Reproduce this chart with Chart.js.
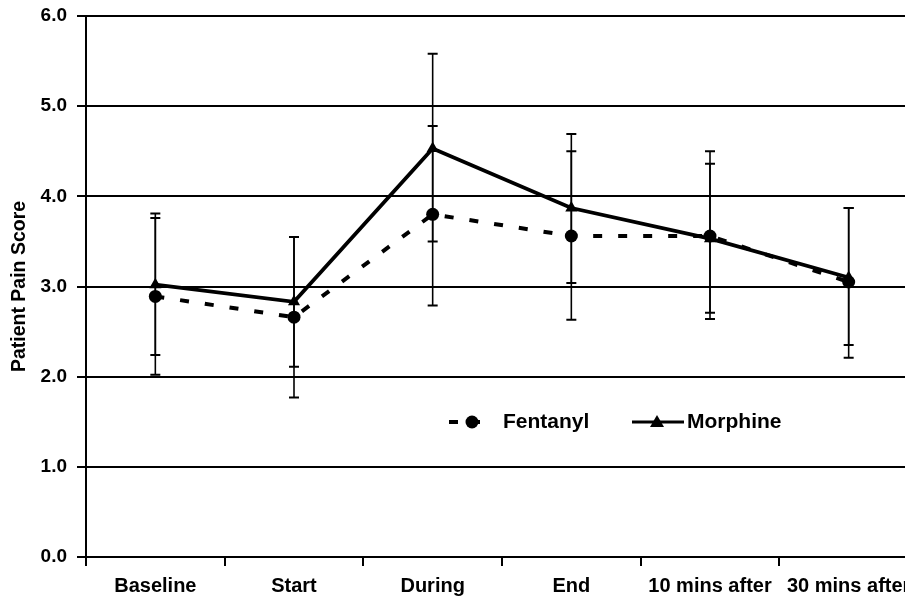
<!DOCTYPE html>
<html><head><meta charset="utf-8">
<script src="https://cdn.jsdelivr.net/npm/chart.js@4/dist/chart.umd.min.js"></script>
<style>
html,body{margin:0;padding:0;overflow:hidden;background:#fff;}
#wrap{width:925px;height:598px;position:relative;}
</style></head><body>
<div id="wrap"><canvas id="c" width="925" height="598"></canvas></div>
<script>
const categories = ['Baseline','Start','During','End','10 mins after','30 mins after'];
const fentanylMean = [2.89, 2.66, 3.80, 3.56, 3.56, 3.05];
const fentanylHigh = [3.76, 3.55, 4.78, 4.50, 4.50, 3.87];
const fentanylLow  = [2.02, 1.77, 2.79, 2.63, 2.64, 2.21];
const morphineMean = [3.02, 2.83, 4.53, 3.87, 3.53, 3.10];
const morphineHigh = [3.81, 3.55, 5.58, 4.69, 4.36, 3.87];
const morphineLow  = [2.24, 2.11, 3.50, 3.04, 2.71, 2.35];
const yMin = 0, yMax = 6, yStep = 1;

const FONT = "'Liberation Sans', Arial, sans-serif";

const errorBars = {
  id: 'errorBars',
  beforeDatasetsDraw(chart) {
    const {ctx, scales: {y}} = chart;
    ctx.save();
    chart.data.datasets.forEach((ds, i) => {
      const meta = chart.getDatasetMeta(i);
      meta.data.forEach((pt, j) => {
        const xp = pt.x;
        const yh = y.getPixelForValue(ds.errHigh[j]);
        const yl = y.getPixelForValue(ds.errLow[j]);
        ctx.strokeStyle = '#000';
        ctx.setLineDash([]);
        ctx.lineWidth = 1.6;
        ctx.beginPath(); ctx.moveTo(xp, yh); ctx.lineTo(xp, yl); ctx.stroke();
        ctx.lineWidth = 2;
        ctx.beginPath();
        ctx.moveTo(xp - 5, yh); ctx.lineTo(xp + 5, yh);
        ctx.moveTo(xp - 5, yl); ctx.lineTo(xp + 5, yl);
        ctx.stroke();
      });
    });
    ctx.restore();
  }
};

const customLegend = {
  id: 'customLegend',
  afterDraw(chart) {
    const {ctx} = chart;
    const yc = 422;
    ctx.save();
    ctx.fillStyle = '#000';
    ctx.strokeStyle = '#000';
    // Fentanyl sample
    ctx.lineWidth = 4;
    ctx.beginPath(); ctx.moveTo(449, yc); ctx.lineTo(458, yc); ctx.stroke();
    ctx.beginPath(); ctx.moveTo(472, yc); ctx.lineTo(480, yc); ctx.stroke();
    ctx.beginPath(); ctx.arc(472, yc, 6.5, 0, Math.PI * 2); ctx.fill();
    // Morphine sample
    ctx.lineWidth = 3;
    ctx.beginPath(); ctx.moveTo(632, yc); ctx.lineTo(684, yc); ctx.stroke();
    ctx.beginPath();
    ctx.moveTo(657, yc - 7); ctx.lineTo(664, yc + 5); ctx.lineTo(650, yc + 5); ctx.closePath(); ctx.fill();
    ctx.font = 'bold 21px ' + FONT;
    ctx.textBaseline = 'middle';
    ctx.textAlign = 'left';
    ctx.fillText(chart.data.datasets[0].label, 503, yc);
    ctx.fillText(chart.data.datasets[1].label, 687, yc);
    ctx.restore();
  }
};

new Chart(document.getElementById('c'), {
  type: 'line',
  data: {
    labels: categories,
    datasets: [
      {
        label: 'Fentanyl',
        data: fentanylMean,
        errHigh: fentanylHigh,
        errLow: fentanylLow,
        borderColor: '#000',
        backgroundColor: '#000',
        borderWidth: 4,
        borderDash: [9, 16],
        pointStyle: 'circle',
        pointRadius: 6.5,
        pointBackgroundColor: '#000',
        pointBorderColor: '#000',
        pointBorderWidth: 0,
        tension: 0,
        order: 2
      },
      {
        label: 'Morphine',
        data: morphineMean,
        errHigh: morphineHigh,
        errLow: morphineLow,
        borderColor: '#000',
        backgroundColor: '#000',
        borderWidth: 3.8,
        pointStyle: 'triangle',
        pointRadius: 7,
        pointBackgroundColor: '#000',
        pointBorderColor: '#000',
        pointBorderWidth: 0,
        tension: 0,
        order: 1
      }
    ]
  },
  options: {
    responsive: false,
    animation: false,
    events: [],
    layout: { padding: { top: 16, right: 5, left: 0, bottom: 0 } },
    plugins: { legend: { display: false }, tooltip: { enabled: false } },
    scales: {
      x: {
        type: 'category',
        offset: true,
        grid: {
          offset: true,
          drawOnChartArea: false,
          drawTicks: true,
          tickLength: 9,
          color: '#000',
          lineWidth: 2
        },
        border: { display: true, color: '#000', width: 2 },
        ticks: {
          color: '#000',
          font: { family: FONT, size: 20, weight: 'bold' },
          maxRotation: 0,
          autoSkip: false,
          padding: 8
        },
        afterFit(scale) { scale.height = 41; }
      },
      y: {
        min: yMin,
        max: yMax,
        grid: {
          color: '#000',
          lineWidth: 2,
          tickLength: 9,
          drawTicks: true
        },
        border: { display: true, color: '#000', width: 2 },
        ticks: {
          stepSize: yStep,
          color: '#000',
          padding: 10,
          font: { family: FONT, size: 19, weight: 'bold' },
          callback: v => Number(v).toFixed(1)
        },
        title: {
          display: true,
          text: 'Patient Pain Score',
          color: '#000',
          font: { family: FONT, size: 19.5, weight: 'bold' },
          padding: { top: 8, bottom: 0 }
        },
        afterFit(scale) { scale.width = 86; scale.paddingTop = 0; scale.paddingBottom = 0; }
      }
    }
  },
  plugins: [errorBars, customLegend]
});
</script>
</body></html>
